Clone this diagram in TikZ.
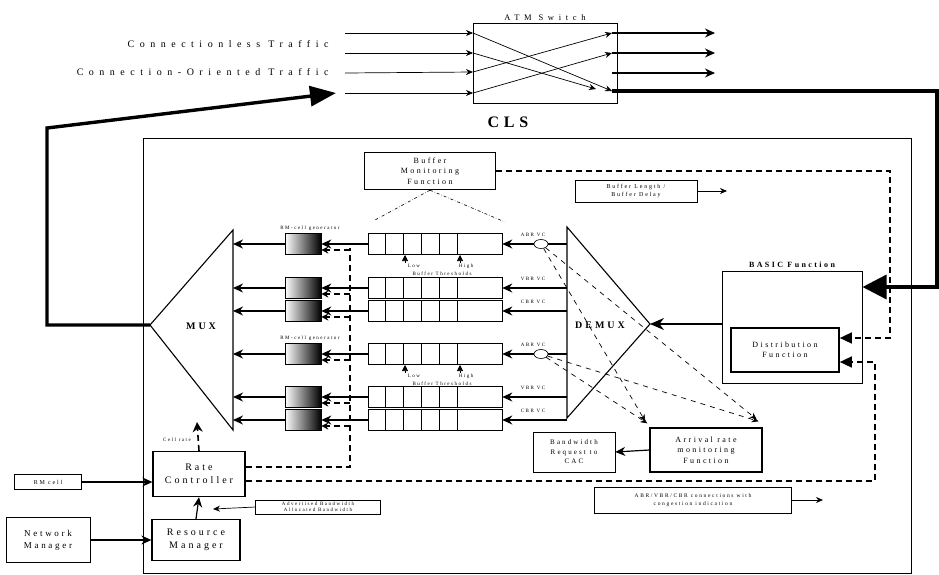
\documentclass[tikz,border=0pt]{standalone}
\usepackage{fontspec}
\setmainfont{Liberation Serif}
\newfontfamily\spaced[LetterSpace=30]{Liberation Serif}
\newfontfamily\wider[LetterSpace=55]{Liberation Serif}
\usetikzlibrary{arrows.meta,calc,positioning,shapes.geometric}

\tikzset{
  thinbox/.style={draw,line width=.5pt,inner sep=1pt,align=center,font=\spaced\fontsize{6}{8}\selectfont},
  thickbox/.style={draw,line width=1.3pt,inner sep=1pt,align=center,font=\spaced\fontsize{8}{10.5}\selectfont},
  flow/.style={-{Stealth[length=10pt,width=9pt]},line width=1.2pt},
  thinflow/.style={-{Stealth[length=7pt,width=6pt]},line width=.7pt},
  ctrl/.style={dash pattern=on 6pt off 4pt,line width=1.6pt},
  mon/.style={dash pattern=on 5pt off 5pt,line width=.7pt},
  trunk/.style={line width=3.4pt},
  tag/.style={font=\spaced\fontsize{5}{6}\selectfont,inner sep=1pt},
  queue/.style={draw,line width=.6pt,minimum width=134pt,minimum height=21pt,inner sep=0pt},
  rmgen/.style={draw,line width=.6pt,minimum width=36pt,minimum height=21pt,inner sep=0pt,
    left color=white,middle color=white!70!black,right color=black}
}

\begin{document}
\begin{tikzpicture}[x=1pt,y=-1pt]
\useasboundingbox (0,0) rectangle (939,574);

% ATM switch
\node[draw,line width=.6pt,minimum width=144pt,minimum height=80pt,inner sep=0pt] (sw) at (545,63) {};
\node[tag,font=\wider\fontsize{8.5}{9}\selectfont,above=1pt of sw] {ATM Switch};
\coordinate (i1) at (473,33); \coordinate (i2) at (473,53);
\coordinate (i3) at (473,72); \coordinate (i4) at (473,93);
\coordinate (o1) at (612,33); \coordinate (o2) at (612,53);
\coordinate (o3) at (612,73); \coordinate (o4) at (612,91);
\foreach \k in {1,...,4}
  \draw[thinflow] (345,{13+20*\k}) -- (i\k);
\draw[thinflow] (i1) -- (o4);
\draw[thinflow] (i2) -- (596,89);
\draw[thinflow] (i3) -- (o1);
\draw[thinflow] (i4) -- (o2);
\draw[flow] (o1) -- (715,33);
\draw[flow] (o2) -- (715,53);
\draw[flow] (o3) -- (715,73);
\node[anchor=east,font=\wider\fontsize{10}{11}\selectfont] (cl) at (332,44) {Connectionless Traffic};
\node[anchor=east,font=\wider\fontsize{10}{11}\selectfont] (co) at (332,72) {Connection-Oriented Traffic};
\node[font=\spaced\bfseries\fontsize{16}{17}\selectfont] (cls) at (508,122) {CLS};

% main frame
\draw[line width=.8pt] (143,138) rectangle (911,573);

% MUX / DEMUX
\coordinate (muxtip) at (150,325);
\draw[line width=1.1pt] (233,230) -- (muxtip) -- (233,430) -- cycle;
\node[font=\spaced\bfseries\fontsize{10}{11}\selectfont] (mux) at (201,326) {MUX};
\coordinate (demuxtip) at (650,324);
\draw[line width=1.1pt] (567,227) -- (demuxtip) -- (567,418) -- cycle;
\node[font=\spaced\bfseries\fontsize{10}{11}\selectfont] (demux) at (600,325) {DEMUX};

% trunk lines
\draw[trunk,-{Triangle[length=26pt,width=20pt]}] (muxtip) -- (47,325) -- (47,128) -- (336,93);

% BASIC function
\node[draw,line width=1pt,minimum width=140pt,minimum height=112pt] (basic) at (792,327) {};
\node[tag,font=\spaced\bfseries\fontsize{8}{9}\selectfont,above=2pt of basic] {BASIC Function};
\node[thickbox,line width=1.7pt,minimum width=108pt,minimum height=44pt] (dist) at (785,350) {Distribution\\Function};
\draw[trunk,-{Triangle[length=24pt,width=24pt]}] (o4) -- (937,91) -- (937,287) -- (basic.east |- 0,287);
\draw[flow,-{Stealth[length=14pt,width=12pt]}] (basic.west |- 0,324) -- (demuxtip);

% buffer monitoring
\node[thickbox,minimum width=131pt,minimum height=37pt] (bmf) at (430,171) {Buffer\\Monitoring\\Function};
\node[thinbox,minimum width=122pt,minimum height=22pt] (blen) at (636,191) {Buffer Length /\\Buffer Delay};
\draw[thinflow] (blen.east) -- (727,191);
\coordinate (bl) at (375,220); \coordinate (br) at (505,222);
\draw[dash dot,line width=.6pt] (bmf.south) -- (bl);
\draw[dash dot,line width=.6pt] (bmf.south) -- (br);
\draw[ctrl,-{Triangle[length=12pt,width=11pt]}] (bmf.east) -- (890,171) -- (890,338) -- (dist.east |- 0,338);

% queues, RM-cell generators
\foreach \r/\y/\vc in {1/244/ABR VC,2/288/VBR VC,3/311/CBR VC,4/354/ABR VC,5/397/VBR VC,6/420/CBR VC} {
  \node[queue] (q\r) at (435,\y) {};
  \foreach \c in {1,...,5}
    \draw[line width=.5pt] ($(q\r.north west)+(18*\c,0)$) -- ($(q\r.south west)+(18*\c,0)$);
  \node[rmgen] (g\r) at (303,\y) {};
  \draw[flow] (q\r.west) -- (g\r.east);
  \draw[flow] (g\r.west) -- (233,\y);
  \draw[flow] (567,\y) -- (q\r.east);
  \draw[ctrl,-{Stealth[length=7pt,width=7pt]}] (350,\y+6) -- ($(g\r.east)+(0,6)$);
  \node[tag] (vc\r) at (533,\y-9) {\vc};
}
\foreach \r/\y in {1/244,4/354} {
  \node[tag] (gl\r) at (310,\y-16) {RM-cell generator};
  \draw[-{Triangle[length=6pt,width=6pt]},line width=.6pt] (405,\y+19) -- (405,\y+11);
  \draw[-{Triangle[length=6pt,width=6pt]},line width=.6pt] (460,\y+19) -- (460,\y+11);
  \node[tag] (lo\r) at (414,\y+22) {Low};
  \node[tag] (hi\r) at (466,\y+22) {High};
  \node[tag] (th\r) at (442,\y+30) {Buffer Thresholds};
}

% monitoring taps
\node[draw,ellipse,fill=white,line width=.6pt,minimum width=14pt,minimum height=9pt,inner sep=0pt] (e1) at (541,244) {};
\node[draw,ellipse,fill=white,line width=.6pt,minimum width=14pt,minimum height=9pt,inner sep=0pt] (e4) at (541,354) {};
\node[thickbox,minimum width=112pt,minimum height=44pt] (ar) at (706,450) {Arrival rate\\monitoring\\Function};
\node[thinbox,font=\spaced\fontsize{7}{9.5}\selectfont,minimum width=82pt,minimum height=40pt] (bwr) at (574,452) {Bandwidth\\Request to\\CAC};
\draw[mon,-{Stealth[length=7pt,width=6pt]}] (e1) -- ($(ar.north west)+(-4,-6)$);
\draw[mon,-{Stealth[length=7pt,width=6pt]}] (e1) -- ($(ar.north east)+(-6,-8)$);
\draw[mon,-{Stealth[length=7pt,width=6pt]}] (e4) -- ($(ar.north west)+(-2,-4)$);
\draw[mon,-{Stealth[length=7pt,width=6pt]}] (e4) -- ($(ar.north east)+(-4,-6)$);
\draw[flow] (ar.west) -- (bwr.east);

% rate control
\node[thickbox,font=\spaced\fontsize{10}{13}\selectfont,minimum width=92pt,minimum height=45pt] (rc) at (199,474) {Rate\\Controller};
\node[thickbox,font=\spaced\fontsize{10}{13}\selectfont,minimum width=88pt,minimum height=41pt] (rm) at (196,540) {Resource\\Manager};
\node[thinbox,minimum width=67pt,minimum height=15pt] (rmc) at (48,482) {RM cell};
\node[thinbox,font=\spaced\fontsize{9}{12}\selectfont,minimum width=84pt,minimum height=45pt] (nm) at (48,540) {Network\\Manager};
\node[thinbox,font=\spaced\fontsize{5}{6}\selectfont,minimum width=125pt,minimum height=14pt] (adv) at (318,507) {Advertised Bandwidth\\Allocated Bandwidth};
\node[thinbox,font=\spaced\fontsize{5.5}{8}\selectfont,minimum width=197pt,minimum height=26pt] (conn) at (693,500) {ABR/VBR/CBR connections with\\congestion indication};
\draw[thinflow] (conn.east) -- (823,500);
\coordinate (rcup) at (197,422);
\draw[ctrl,-{Stealth[length=10pt,width=10pt]}] (rc.north) -- (rcup);
\node[tag] (cr) at (177,440) {Cell rate};
\draw[flow] (rmc.east) -- (rmc.east -| rc.west);
\draw[flow] (nm.east) -- (nm.east -| rm.west);
\draw[flow] (rm.north) -- (rc.south);
\coordinate (advend) at (213,509);
\draw[thinflow] (adv.west) -- (advend);
\draw[ctrl] ($(rc.east)+(0,-7)$) -- (350,467) -- (350,248);
\draw[ctrl,-{Triangle[length=12pt,width=11pt]}] ($(rc.east)+(0,7)$) -- (875,481) -- (875,362) -- (dist.east |- 0,362);
\end{tikzpicture}
\end{document}
